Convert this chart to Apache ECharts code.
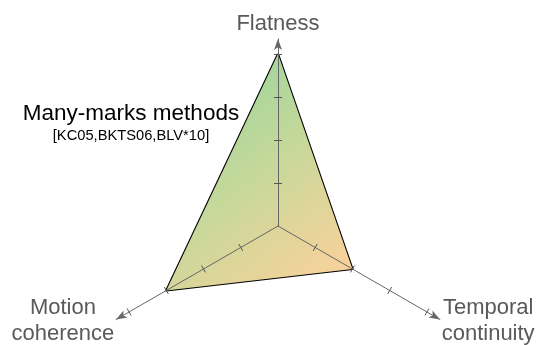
<!DOCTYPE html>
<html>
<head>
<meta charset="utf-8">
<script src="https://cdn.jsdelivr.net/npm/echarts@6/dist/echarts.min.js"></script>
<style>
  html, body { margin: 0; padding: 0; background: #fff; }
  #chart { width: 550px; height: 345px; }
</style>
</head>
<body>
<div id="chart"></div>
<script>
// radar axes, in the order ECharts lays them out (counter-clockwise from top)
const axisNames = ['Flatness', 'Motion\ncoherence', 'Temporal\ncontinuity']
const scores = [4, 3, 2]
const tickValues = [1, 2, 3, 4]
// axis line runs a bit past the top tick so the arrow sits beyond it
const axisMax = 4.35

const chart = echarts.init(document.getElementById('chart'))

const indicator = axisNames.map(function (n) {
  return { name: n, min: 0, max: axisMax }
})

const baseRadar = {
  center: [278, 226],
  radius: 187,
  startAngle: 90,
  z: 3,
  indicator: indicator,
  splitLine: { show: false },
  splitArea: { show: false },
  axisLabel: { show: false }
}

const nameFont = { color: '#595959', fontFamily: 'Liberation Sans', fontSize: 22, lineHeight: 26 }
const tickLine = { color: '#555', width: 1 }

const option = {
  title: {
    text: 'Many-marks methods',
    subtext: '[KC05,BKTS06,BLV*10]',
    left: 126,
    top: 97,
    textAlign: 'center',
    itemGap: 3,
    textStyle: { fontFamily: 'Liberation Sans', fontSize: 22.5, fontWeight: 'normal', color: '#000' },
    subtextStyle: { fontFamily: 'Liberation Sans', fontSize: 14.7, color: '#000' }
  },
  radar: [
    Object.assign({}, baseRadar, {
      axisName: Object.assign({}, nameFont, {
        formatter: function (v) {
          return v.split('\n').map(function (s) { return '{c|' + s + '}' }).join('\n')
        },
        rich: { c: Object.assign({ align: 'center' }, nameFont) }
      }),
      nameGap: 2,
      axisLine: {
        symbol: ['none', 'arrow'],
        symbolSize: [6, 11],
        lineStyle: { color: '#666', width: 1 }
      },
      axisTick: { show: true, length: 4, customValues: tickValues, lineStyle: tickLine }
    }),
    // second set of ticks on the other side, so each tick crosses the axis
    Object.assign({}, baseRadar, {
      axisName: { show: false },
      axisLine: { show: false },
      axisTick: { show: true, length: -4, customValues: tickValues, lineStyle: tickLine }
    })
  ],
  series: [
    {
      type: 'radar',
      radarIndex: 0,
      symbol: 'none',
      silent: true,
      z: 1,
      lineStyle: { color: '#000', width: 2.2 },
      areaStyle: {
        opacity: 1,
        color: new echarts.graphic.LinearGradient(0, 0, 1, 1, [
          { offset: 0.25, color: '#a9d69c' },
          { offset: 0.5, color: '#c6d89a' },
          { offset: 0.7, color: '#dfd59a' },
          { offset: 1, color: '#ffd19b' }
        ])
      },
      data: [{ value: scores, name: 'Many-marks methods' }]
    }
  ]
}

chart.setOption(option)
</script>
</body>
</html>
